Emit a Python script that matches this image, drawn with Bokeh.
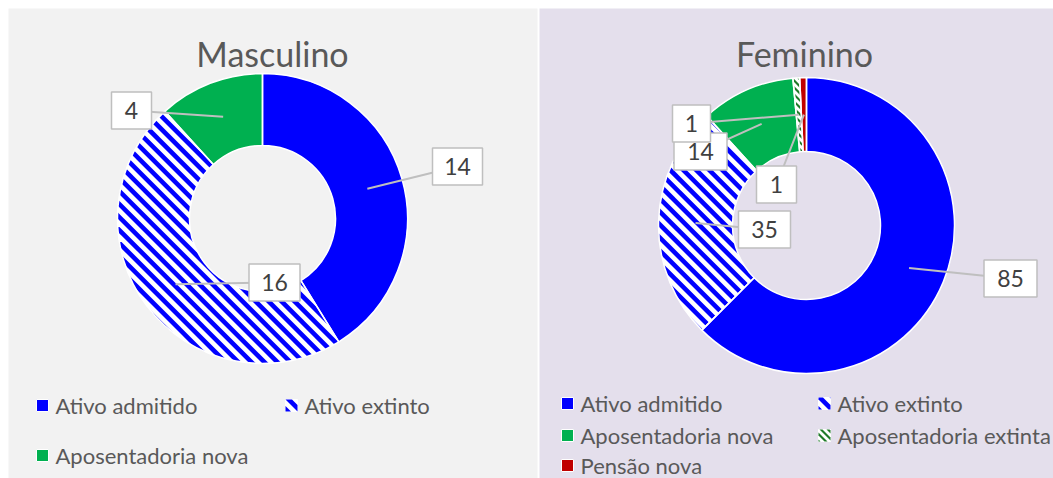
import numpy as np
from bokeh.plotting import figure
from bokeh.models import Range1d, ColumnDataSource
from bokeh.core.properties import value
from bokeh.embed import file_html
from bokeh.resources import INLINE

# ---------------- data ----------------
categories = ["Ativo admitido", "Ativo extinto", "Aposentadoria nova",
              "Aposentadoria extinta", "Pensão nova"]
masc_values = [14, 16, 4]
fem_values = [85, 35, 14, 1, 1]
titles = ["Masculino", "Feminino"]

# ---------------- styles ----------------
fill_colors = ["#0000ff", "#ffffff", "#00b050", "#ffffff", "#c00000"]
# (stripe colour, period, stripe width) for patterned categories
stripes = [None, ("#0000ff", 13.0, 6.5), None, ("#1f7a28", 7.0, 3.0), None]
panel_colors = ["#f2f2f2", "#e4dfec"]
FONT = "Lato"
TITLE_C = "#595959"
TEXT_C = "#404040"

W, H = 1053, 478


def Y(ry):
    return H - ry


def clip_half(pts, a, b, c):
    """Keep part of a convex polygon where a*x + b*y >= c (Sutherland-Hodgman)."""
    out = []
    n = len(pts)
    for i in range(n):
        P = pts[i]
        Q = pts[(i + 1) % n]
        dp = a * P[0] + b * P[1] - c
        dq = a * Q[0] + b * Q[1] - c
        if dp >= 0:
            out.append(P)
        if (dp >= 0) != (dq >= 0):
            t = dp / (dp - dq)
            out.append((P[0] + t * (Q[0] - P[0]), P[1] + t * (Q[1] - P[1])))
    return out


def stripe_polys(px, py, period, width):
    """Diagonal '\\' stripes (x + y = const in y-up coords) clipped to a convex polygon."""
    pts = list(zip(px, py))
    s = np.asarray(px) + np.asarray(py)
    k0 = int(np.floor(s.min() / period)) - 1
    k1 = int(np.ceil(s.max() / period)) + 1
    xs, ys = [], []
    for k in range(k0, k1 + 1):
        c0 = k * period
        c1 = c0 + width
        q = clip_half(pts, 1, 1, c0)
        if len(q) < 3:
            continue
        q = clip_half(q, -1, -1, -c1)
        if len(q) < 3:
            continue
        xs.append([v[0] for v in q])
        ys.append([v[1] for v in q])
    return xs, ys


p = figure(width=W, height=H, output_backend="svg", toolbar_location=None,
           x_range=Range1d(0, W), y_range=Range1d(0, H), min_border=0)
p.axis.visible = False
p.grid.visible = False
p.outline_line_color = None
p.background_fill_color = "white"
p.border_fill_color = "white"

# panels
p.quad(left=[8, 539], right=[537, 1053], top=[Y(8), Y(8)], bottom=[Y(478), Y(478)],
       fill_color=panel_colors, line_color=None)

charts = [
    dict(values=masc_values, cx=262, cy=218, r_in=73, r_out=145, title_x=272,
         bg=panel_colors[0],
         boxes=[(457, 166, 50), (274, 282, 51), (131, 110, 40)]),
    dict(values=fem_values, cx=806, cy=225, r_in=74, r_out=148, title_x=804,
         bg=panel_colors[1],
         boxes=[(1010, 278, 53), (764, 229, 52), (700, 151, 53), (691, 123, 38), (776, 184, 40)]),
]

for ch, title in zip(charts, titles):
    vals = np.array(ch["values"], dtype=float)
    n = len(vals)
    tot = vals.sum()
    cum = np.concatenate([[0], np.cumsum(vals)])
    start = np.pi / 2 - cum[:-1] / tot * 2 * np.pi
    end = np.pi / 2 - cum[1:] / tot * 2 * np.pi
    mid = (start + end) / 2
    cx, cy = ch["cx"], Y(ch["cy"])
    src = ColumnDataSource(dict(start=start, end=end, fill=fill_colors[:n]))
    p.annular_wedge(x=cx, y=cy, inner_radius=ch["r_in"], outer_radius=ch["r_out"],
                    start_angle="start", end_angle="end", direction="clock",
                    fill_color="fill", line_color=None, source=src)
    # stripe patterns (clipped to the convex pie slice; the hole is re-filled below)
    for i in range(n):
        if stripes[i] is None:
            continue
        col, per, wid = stripes[i]
        th = np.linspace(start[i], end[i], 240)
        px = np.concatenate([[cx], cx + ch["r_out"] * np.cos(th)])
        py = np.concatenate([[cy], cy + ch["r_out"] * np.sin(th)])
        xs, ys = stripe_polys(px, py, per, wid)
        p.patches(xs=xs, ys=ys, fill_color=col, line_color=None)
    # donut hole
    p.circle(x=[cx], y=[cy], radius=ch["r_in"], fill_color=ch["bg"], line_color=None)
    # white separators
    p.annular_wedge(x=cx, y=cy, inner_radius=ch["r_in"], outer_radius=ch["r_out"],
                    start_angle="start", end_angle="end", direction="clock",
                    fill_color=None, line_color="white", line_width=1.5, source=src)
    # title
    p.text(x=[ch["title_x"]], y=[Y(53)], text=[title], text_font=value(FONT),
           text_font_size=value("34px"), text_color=TITLE_C,
           text_align="center", text_baseline="middle")
    # leader lines
    r_mid = (ch["r_in"] + ch["r_out"]) / 2
    sx = cx + r_mid * np.cos(mid)
    sy = cy + r_mid * np.sin(mid)
    bx = [b[0] for b in ch["boxes"]]
    by = [Y(b[1]) for b in ch["boxes"]]
    bw = [b[2] for b in ch["boxes"]]
    p.segment(x0=sx, y0=sy, x1=bx, y1=by, line_color="#bfbfbf", line_width=2)
    p.rect(x=bx, y=by, width=bw, height=37, fill_color="white",
           line_color="#bfbfbf", line_width=1.5)
    p.text(x=bx, y=by, text=[str(int(v)) for v in vals], text_font=value(FONT),
           text_font_size=value("23px"), text_color=TEXT_C,
           text_align="center", text_baseline="middle")

# legends
legends = [
    dict(n=3, pos=[(42, 405), (291, 405), (42, 455)]),
    dict(n=5, pos=[(567, 403), (824, 403), (567, 435), (824, 435), (567, 465)]),
]
MS = 12
for lg in legends:
    n = lg["n"]
    mx = [q[0] for q in lg["pos"]]
    my = [Y(q[1]) for q in lg["pos"]]
    p.rect(x=mx, y=my, width=MS, height=MS, fill_color=fill_colors[:n],
           line_color="white", line_width=1)
    for i in range(n):
        if stripes[i] is None:
            continue
        col, per, wid = stripes[i]
        h = MS / 2
        px = [mx[i] - h, mx[i] + h, mx[i] + h, mx[i] - h]
        py = [my[i] - h, my[i] - h, my[i] + h, my[i] + h]
        xs, ys = stripe_polys(px, py, per, wid)
        p.patches(xs=xs, ys=ys, fill_color=col, line_color=None)
    p.text(x=[x + 13 for x in mx], y=my, text=categories[:n], text_font=value(FONT),
           text_font_size=value("22px"), text_color=TITLE_C,
           text_align="left", text_baseline="middle")

open("out.html", "w").write(file_html(p, INLINE))
